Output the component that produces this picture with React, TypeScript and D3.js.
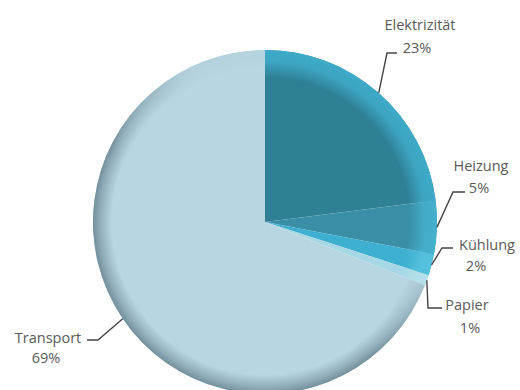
import React from "react";
import * as d3 from "d3";

const categories = ["Elektrizität", "Heizung", "Kühlung", "Papier", "Transport"];
const values = [23, 5, 2, 1, 69];
const percentLabels = ["23%", "5%", "2%", "1%", "69%"];

const baseColors = ["#2f7f95", "#3a8fa7", "#3dafd0", "#a5d7e5", "#b8d6e1"];
const rimColors = ["#3eabc9", "#45b1cd", "#55c1de", "#b5e0ea", "#6f8b97"];

// label layout: elbow point, leader end, text center, percent center
const labelLayout = [
  { elbow: [387, 53], end: [397, 53], name: [420, 30], pct: [417, 53] },
  { elbow: [453, 192], end: [465, 192], name: [481, 171], pct: [479, 193] },
  { elbow: [442, 248], end: [453, 248], name: [487, 250], pct: [476, 271] },
  { elbow: [428, 308], end: [442, 308], name: [467, 310], pct: [470, 333] },
  { elbow: [98, 340], end: [87, 340], name: [48, 343], pct: [46, 363] },
];

export default function App() {
  const W = 520, H = 390;
  const cx = 265, cy = 222, r = 172;
  const pie = d3.pie<number>().sort(null).value((d) => d).startAngle(0).endAngle(2 * Math.PI);
  const arcs = pie(values);
  const arcFull = d3.arc<d3.PieArcDatum<number>>().innerRadius(0).outerRadius(r);
  const arcRim = d3.arc<d3.PieArcDatum<number>>().innerRadius(r * 0.84).outerRadius(r);

  return (
    <svg width={W} height={H} style={{ position: "absolute", left: 0, top: 0, background: "#fff" }}>
      <defs>
        {arcs.map((a, i) =>
          i === 4 ? (
            <radialGradient key={i} id={`rim${i}`} cx={0} cy={0} r={r} gradientUnits="userSpaceOnUse">
              <stop offset="0.89" stopColor={rimColors[i]} stopOpacity={0} />
              <stop offset="0.96" stopColor={rimColors[i]} stopOpacity={0.55} />
              <stop offset="1" stopColor={rimColors[i]} stopOpacity={0.95} />
            </radialGradient>
          ) : (
            <radialGradient key={i} id={`rim${i}`} cx={0} cy={0} r={r} gradientUnits="userSpaceOnUse">
              <stop offset="0.84" stopColor={rimColors[i]} stopOpacity={0} />
              <stop offset="0.93" stopColor={rimColors[i]} stopOpacity={0.85} />
              <stop offset="1" stopColor={rimColors[i]} stopOpacity={1} />
            </radialGradient>
          )
        )}
        <linearGradient id="shadeMaskGrad" x1="0.9" y1="0.0" x2="0.15" y2="0.95">
          <stop offset="0" stopColor="#000" />
          <stop offset="0.35" stopColor="#111" />
          <stop offset="0.62" stopColor="#fff" />
          <stop offset="1" stopColor="#fff" />
        </linearGradient>
        <mask id="shadeMask" maskUnits="userSpaceOnUse" x={-r} y={-r} width={2 * r} height={2 * r}>
          <rect x={-r} y={-r} width={2 * r} height={2 * r} fill="url(#shadeMaskGrad)" />
        </mask>
      </defs>
      <g transform={`translate(${cx},${cy})`}>
        {arcs.map((a, i) => (
          <path key={`b${i}`} d={arcFull(a) || ""} fill={baseColors[i]} />
        ))}
        {arcs.map((a, i) => (
          <path
            key={`r${i}`}
            d={arcRim(a) || ""}
            fill={`url(#rim${i})`}
            mask={i === 4 ? "url(#shadeMask)" : undefined}
          />
        ))}
      </g>
      {arcs.map((a, i) => {
        const mid = (a.startAngle + a.endAngle) / 2;
        const px = cx + r * Math.sin(mid);
        const py = cy - r * Math.cos(mid);
        const L = labelLayout[i];
        return (
          <g key={`l${i}`} fontFamily="'Open Sans', 'DejaVu Sans', sans-serif" fontSize={14.5} fill="#5a5a5a" textAnchor="middle">
            <polyline
              points={`${px},${py} ${L.elbow[0]},${L.elbow[1]} ${L.end[0]},${L.end[1]}`}
              fill="none"
              stroke="#444"
              strokeWidth={1.4}
            />
            <text x={L.name[0]} y={L.name[1]}>{categories[i]}</text>
            <text x={L.pct[0]} y={L.pct[1]}>{percentLabels[i]}</text>
          </g>
        );
      })}
    </svg>
  );
}
